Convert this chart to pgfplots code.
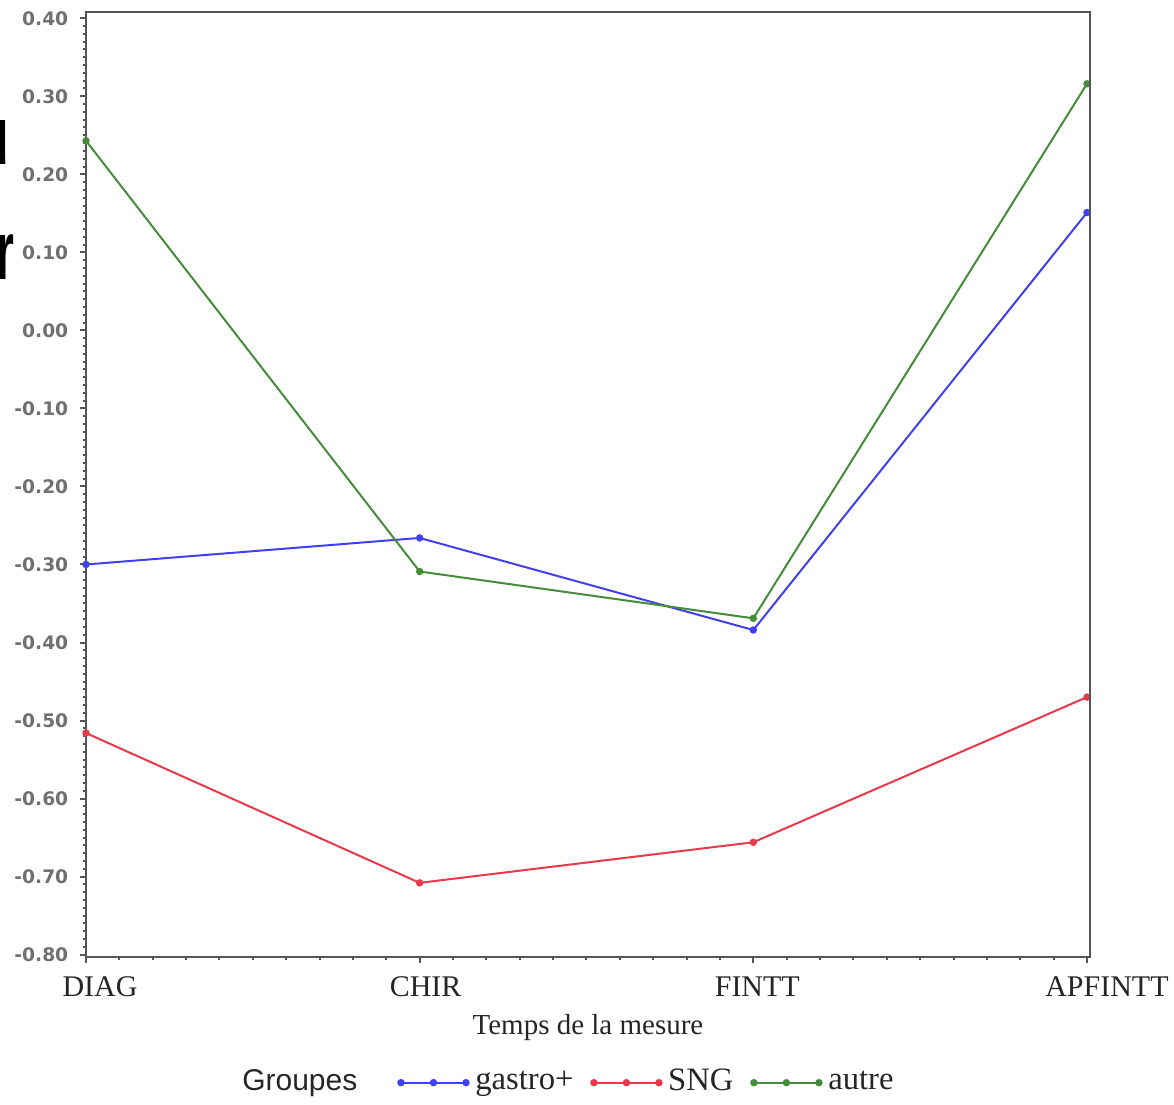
\documentclass[border=0pt]{standalone}
\usepackage{pgfplots}
\pgfplotsset{compat=1.18}
\usepackage{fontspec}
\setmainfont{Liberation Serif}
\setsansfont{Liberation Sans}
\newfontfamily\tickfont{DejaVu Sans}
\definecolor{cblue}{HTML}{4040F0}
\definecolor{cred}{HTML}{E8394A}
\definecolor{cgreen}{HTML}{458C3A}
\definecolor{axgray}{HTML}{555555}
\definecolor{tickgray}{HTML}{707070}
\begin{document}
\begin{tikzpicture}
\begin{axis}[name=ax, scale only axis, width=301.2pt, height=283.5pt,
  xmin=0, xmax=3.009, ymin=-0.803, ymax=0.408,
  clip=false,
  axis line style={axgray, line width=0.6pt},
  xtick={0,1,2,3},
  xticklabels={\hspace*{8.4pt}DIAG,\hspace*{3.6pt}CHIR,\hspace*{2.4pt}FINTT,\hspace*{12pt}APFINTT},
  ytick={-0.8,-0.7,-0.6,-0.5,-0.4,-0.3,-0.2,-0.1,0,0.1,0.2,0.3,0.4},
  minor x tick num=9, minor y tick num=9,
  xtick pos=lower, ytick pos=left,
  tick align=outside,
  major tick length=1.8pt, minor tick length=1pt,
  every tick/.style={axgray, line width=0.6pt},
  y tick label style={font=\tickfont\bfseries\fontsize{5.6}{7}\selectfont, text=tickgray,
    /pgf/number format/.cd, fixed, fixed zerofill, precision=2, assume math mode=true},
  x tick label style={font=\fontsize{9}{10}\selectfont, text=black!85, yshift=-0.5pt},
  xlabel={Temps de la mesure},
  xlabel style={font=\fontsize{8.7}{10}\selectfont, text=black!85, yshift=1.5pt},
  legend columns=-1,
  legend style={draw=none, fill=none, at={(0.480,-0.133)}, anchor=center,
    font=\fontsize{9.8}{11}\selectfont, text=black!85,
    /tikz/every even column/.append style={column sep=3.3pt}},
  legend image code/.code={\draw[mark repeat=1,mark phase=1,#1] plot coordinates {(0pt,0pt) (9.75pt,0pt) (19.5pt,0pt)};},
  every axis plot/.append style={line width=0.6pt, mark=*, mark size=0.8pt},
]
\addlegendimage{empty legend}
\addlegendentry{\sffamily\fontsize{9}{11}\selectfont Groupes\rule{7pt}{0pt}}
\addplot[cblue, mark options={fill=cblue}] coordinates {(0,-0.300) (1,-0.266) (2,-0.384) (3,0.151)};
\addlegendentry{gastro+}
\addplot[cred, mark options={fill=cred}] coordinates {(0,-0.516) (1,-0.708) (2,-0.656) (3,-0.470)};
\addlegendentry{SNG}
\addplot[cgreen, mark options={fill=cgreen}] coordinates {(0,0.243) (1,-0.309) (2,-0.369) (3,0.316)};
\addlegendentry{autre}
\end{axis}
\pgfresetboundingbox
\begin{scope}[shift={(ax.north west)}, x=0.3pt, y=-0.3pt, shift={(-86,-12)}]
\useasboundingbox (0,0) rectangle (1174,1104);
\draw[axgray, line width=0.6pt] (86,12) -- (1090,12) -- (1090,957);
\node[anchor=east, inner sep=0pt, font=\sffamily\bfseries\fontsize{25}{28}\selectfont] at (12,143) {u};
\node[anchor=west, inner sep=0pt, font=\sffamily\bfseries\fontsize{25}{28}\selectfont] at (-4,257) {\scalebox{0.55}[1]{r}};
\end{scope}
\end{tikzpicture}
\end{document}
